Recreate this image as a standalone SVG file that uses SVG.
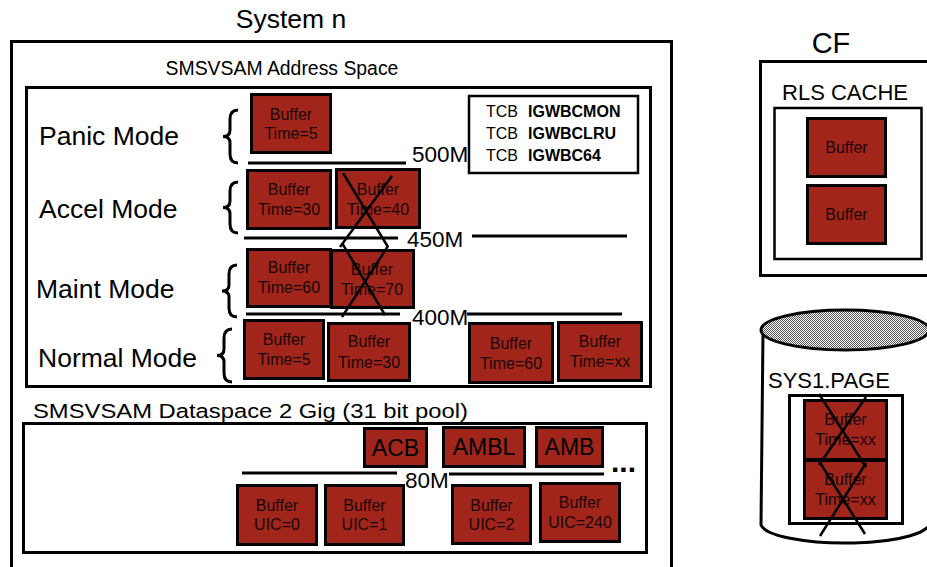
<svg xmlns="http://www.w3.org/2000/svg" width="927" height="567" viewBox="0 0 927 567">
<defs>
<pattern id="dots" width="2" height="2" patternUnits="userSpaceOnUse">
<rect width="2" height="2" fill="#ffffff"/>
<rect width="1" height="1" fill="#555"/>
<rect x="1" y="1" width="1" height="1" fill="#555"/>
</pattern>
</defs>
<style>
text{font-family:"Liberation Sans",Arial,sans-serif;fill:#000}
.box{fill:#fff;stroke:#000;stroke-width:3}
.buf{fill:#A1251B;stroke:#000;stroke-width:3}
.bt{font-size:16px;text-anchor:middle;fill:#1a0505}
.mode{font-size:26.5px}
.lim{font-size:22.5px}
.ln{stroke:#000;stroke-width:3;fill:none}
.x{stroke:#000;stroke-width:2.5;fill:none}
.brace{stroke:#000;stroke-width:3;fill:none}
.big{font-size:23px;text-anchor:middle}
</style>
<rect width="927" height="567" fill="#fff"/>

<g id="system">
<text x="291" y="28" font-size="26.5" text-anchor="middle">System n</text>
<rect class="box" x="11.5" y="41.5" width="660" height="540"/>
</g>

<g id="address-space">
<text x="282" y="75" font-size="19.4" text-anchor="middle">SMSVSAM Address Space</text>
<rect class="box" x="26.5" y="87.5" width="624" height="299"/>
</g>

<g id="tcb">
<rect x="469" y="96" width="169" height="77" fill="#fff" stroke="#000" stroke-width="2.5"/>
<text x="486" y="117" font-size="16">TCB <tspan x="528" font-weight="bold">IGWBCMON</tspan></text>
<text x="486" y="139" font-size="16">TCB <tspan x="528" font-weight="bold">IGWBCLRU</tspan></text>
<text x="486" y="161" font-size="16">TCB <tspan x="528" font-weight="bold">IGWBC64</tspan></text>
</g>

<g id="modes">
<text class="mode" x="39" y="145">Panic Mode</text>
<text class="mode" x="39" y="218">Accel Mode</text>
<text class="mode" x="36" y="298">Maint Mode</text>
<text class="mode" x="38" y="367">Normal Mode</text>
<path class="brace" d="M238,110 Q230,110 230,119 L230,130 Q230,136.5 223,136.5 Q230,136.5 230,143 L230,154 Q230,163 238,163"/>
<path class="brace" d="M238,182 Q230,182 230,191 L230,201 Q230,207.5 223,207.5 Q230,207.5 230,214 L230,224 Q230,233 238,233"/>
<path class="brace" d="M237,265 Q229,265 229,274 L229,285 Q229,291 222,291 Q229,291 229,297 L229,308 Q229,317 237,317"/>
<path class="brace" d="M232,329 Q224,329 224,338 L224,349 Q224,355.5 217,355.5 Q224,355.5 224,362 L224,373 Q224,382 232,382"/>
</g>

<g id="buf-panic-5">
<rect class="buf" x="251.5" y="94.5" width="79" height="58"/>
<text class="bt" x="291" y="120">Buffer</text><text class="bt" x="291" y="139">Time=5</text>
</g>
<g id="buf-accel-30">
<rect class="buf" x="247.5" y="170.5" width="83" height="58"/>
<text class="bt" x="289" y="195">Buffer</text><text class="bt" x="289" y="215">Time=30</text>
</g>
<g id="buf-accel-40">
<rect class="buf" x="336.5" y="169.5" width="83" height="58"/>
<text class="bt" x="378" y="195">Buffer</text><text class="bt" x="378" y="215">Time=40</text>
</g>
<g id="buf-maint-60">
<rect class="buf" x="247.5" y="249.5" width="83" height="57"/>
<text class="bt" x="289" y="273">Buffer</text><text class="bt" x="289" y="293">Time=60</text>
</g>
<g id="buf-maint-70">
<rect class="buf" x="331.5" y="250.5" width="82" height="57"/>
<text class="bt" x="372" y="275">Buffer</text><text class="bt" x="372" y="295">Time=70</text>
</g>
<g id="buf-normal-5">
<rect class="buf" x="244.5" y="320.5" width="79" height="58"/>
<text class="bt" x="284" y="345">Buffer</text><text class="bt" x="284" y="365">Time=5</text>
</g>
<g id="buf-normal-30">
<rect class="buf" x="328.5" y="323.5" width="81" height="57"/>
<text class="bt" x="369" y="347">Buffer</text><text class="bt" x="369" y="368">Time=30</text>
</g>
<g id="buf-normal-60">
<rect class="buf" x="469.5" y="323.5" width="83" height="59"/>
<text class="bt" x="511" y="349">Buffer</text><text class="bt" x="511" y="369">Time=60</text>
</g>
<g id="buf-normal-xx">
<rect class="buf" x="558.5" y="322.5" width="83" height="58"/>
<text class="bt" x="600" y="347">Buffer</text><text class="bt" x="600" y="367">Time=xx</text>
</g>

<g id="dataspace">
<text x="33" y="418" font-size="20" textLength="435" lengthAdjust="spacingAndGlyphs">SMSVSAM Dataspace 2 Gig (31 bit pool)</text>
<rect class="box" x="23.5" y="423.5" width="623" height="129"/>
</g>
<g id="acb">
<rect class="buf" x="364.5" y="428.5" width="62" height="38"/>
<text class="big" x="395.5" y="456">ACB</text>
</g>
<g id="ambl">
<rect class="buf" x="443.5" y="427.5" width="81" height="39"/>
<text class="big" x="484" y="455">AMBL</text>
</g>
<g id="amb">
<rect class="buf" x="536.5" y="427.5" width="66" height="39"/>
<text class="big" x="569.5" y="455">AMB</text>
</g>
<text x="611" y="472" font-size="30" font-weight="bold">...</text>
<g id="buf-uic-0">
<rect class="buf" x="237.5" y="485.5" width="79" height="59"/>
<text class="bt" x="277" y="511">Buffer</text><text class="bt" x="277" y="530">UIC=0</text>
</g>
<g id="buf-uic-1">
<rect class="buf" x="325.5" y="485.5" width="78" height="59"/>
<text class="bt" x="364.5" y="511">Buffer</text><text class="bt" x="364.5" y="530">UIC=1</text>
</g>
<g id="buf-uic-2">
<rect class="buf" x="452.5" y="485.5" width="78" height="58"/>
<text class="bt" x="491.5" y="511">Buffer</text><text class="bt" x="491.5" y="530">UIC=2</text>
</g>
<g id="buf-uic-240">
<rect class="buf" x="540.5" y="483.5" width="79" height="58"/>
<text class="bt" x="580" y="508">Buffer</text><text class="bt" x="580" y="528">UIC=240</text>
</g>

<g id="cf">
<text x="831" y="53" font-size="29" text-anchor="middle">CF</text>
<rect class="box" x="760.5" y="61.5" width="180" height="214"/>
<text x="845" y="100" font-size="22" text-anchor="middle">RLS CACHE</text>
<rect x="774.5" y="108" width="147" height="151" fill="#fff" stroke="#000" stroke-width="2.5"/>
</g>
<g id="rls-buf-1">
<rect class="buf" x="807.5" y="118.5" width="78" height="58"/>
<text class="bt" x="846.5" y="153">Buffer</text>
</g>
<g id="rls-buf-2">
<rect class="buf" x="807.5" y="185.5" width="78" height="58"/>
<text class="bt" x="846.5" y="220">Buffer</text>
</g>

<g id="sys1-page">
<path d="M763,332 L761,525 A84,20 0 0 0 929,521 L929,330" fill="#fff" stroke="#000" stroke-width="3"/>
<ellipse cx="845" cy="330" rx="84" ry="20" fill="url(#dots)" stroke="#000" stroke-width="3"/>
<text x="768" y="388" font-size="22">SYS1.PAGE</text>
<rect class="box" x="789.5" y="395.5" width="113" height="128"/>
</g>
<g id="page-buf-1">
<rect class="buf" x="804.5" y="400.5" width="82" height="59"/>
<text class="bt" x="845.5" y="425">Buffer</text><text class="bt" x="845.5" y="445">Time=xx</text>
</g>
<g id="page-buf-2">
<rect class="buf" x="804.5" y="460.5" width="82" height="58"/>
<text class="bt" x="845.5" y="485">Buffer</text><text class="bt" x="845.5" y="505">Time=xx</text>
</g>

<g id="connectors">
<line class="ln" x1="248" y1="163" x2="406" y2="163"/>
<text class="lim" x="412" y="162">500M</text>
<line class="ln" x1="244" y1="238" x2="398" y2="238"/>
<text class="lim" x="407" y="247">450M</text>
<line class="ln" x1="472" y1="236" x2="627" y2="236"/>
<line class="ln" x1="246" y1="314" x2="400" y2="314"/>
<text class="lim" x="412" y="325">400M</text>
<line class="ln" x1="467" y1="314" x2="622" y2="314"/>
<line class="ln" x1="242" y1="473" x2="397" y2="473"/>
<text class="lim" x="405" y="488">80M</text>
<line class="ln" x1="449" y1="474" x2="604" y2="474"/>
<line class="x" x1="343" y1="173" x2="388" y2="247"/>
<line class="x" x1="392" y1="176" x2="340" y2="247"/>
<line class="x" x1="342" y1="243" x2="385" y2="315"/>
<line class="x" x1="388" y1="246" x2="342" y2="317"/>
<line class="x" x1="819" y1="394" x2="866" y2="467"/>
<line class="x" x1="866" y1="397" x2="819" y2="465"/>
<line class="x" x1="819" y1="461" x2="865" y2="534"/>
<line class="x" x1="866" y1="463" x2="820" y2="536"/>
</g>
</svg>
